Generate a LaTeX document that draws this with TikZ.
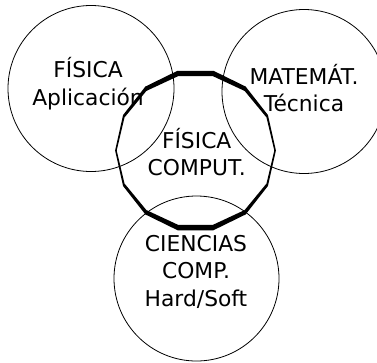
\documentclass[tikz,border=0pt]{standalone}
\usepackage{fontspec}
\setmainfont{DejaVu Sans}
\tikzset{
  area/.style={draw, line width=0.8pt},
  rotulo/.style={align=center, inner sep=0pt, anchor=base, font=\fontsize{21.8}{27.5}\selectfont},
}
\begin{document}
\begin{tikzpicture}[x=1pt,y=-1pt]
                \useasboundingbox (0,0) rectangle (377,362);
                \draw[area] (91,88.5) circle (83);
                \draw[area] (304,91.5) circle (82);
                \draw[area] (196.5,278.5) circle (82.5);
                % nucleo central, trazo grueso arriba y abajo
                \fill[even odd rule]
                  plot[domain=0:360,samples=15] ({195.5+80.4*cos(\x)},{150.5+81.8*sin(\x)}) -- cycle
                  plot[domain=0:360,samples=15] ({195.5+78.8*cos(\x)},{150.5+76.2*sin(\x)}) -- cycle;
                \node[rotulo] (fisap) at (88,105) {FÍSICA\\Aplicación};
                \node[rotulo] (matec) at (304,111.7) {MATEMÁT.\\Técnica};
                \node[rotulo] (fiscomp) at (196.7,175.7) {FÍSICA\\COMPUT.};
                \node[rotulo] (ciencias) at (196,306) {CIENCIAS\\COMP.\\Hard/Soft};
            \end{tikzpicture}
\end{document}
